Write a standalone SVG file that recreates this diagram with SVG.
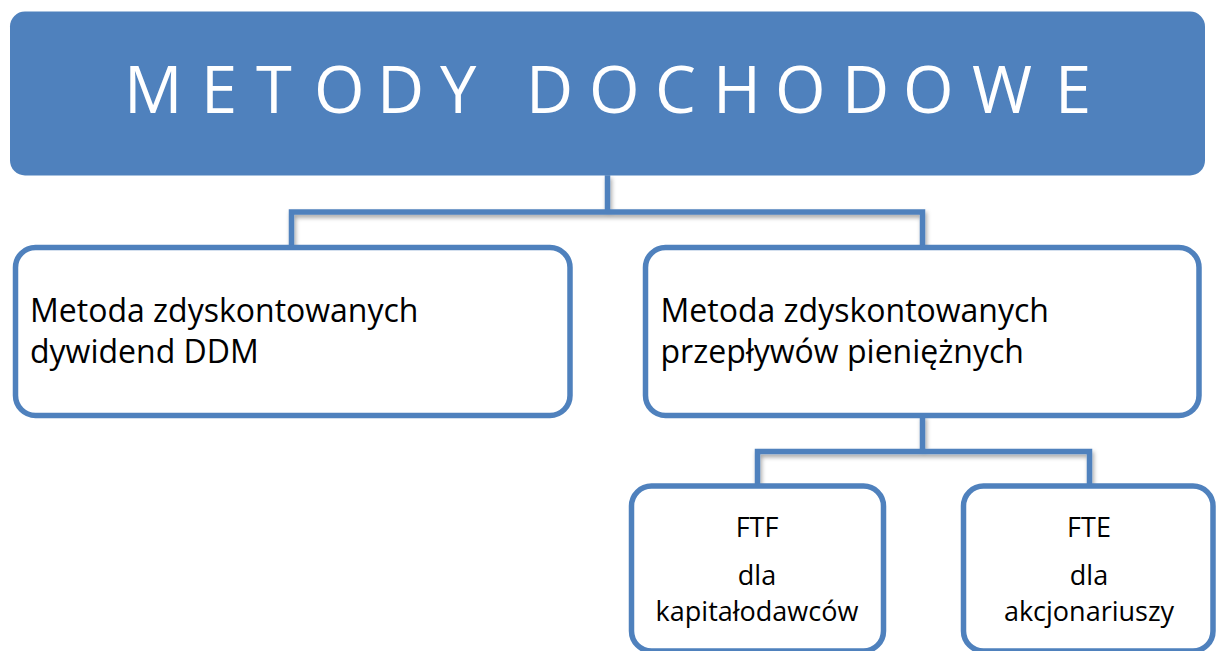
<svg xmlns="http://www.w3.org/2000/svg" width="1217" height="651" viewBox="0 0 1217 651">
<style>
  .box { fill: #ffffff; stroke: #4f81bd; stroke-width: 5.5; }
  .conn { fill: none; stroke: #4f81bd; stroke-width: 5.5; stroke-linejoin: miter; stroke-linecap: square; }
  .title { font-family: "Open Sans", "DejaVu Sans", sans-serif; font-size: 65px; fill: #ffffff; }
  .body { font-family: "Open Sans", "DejaVu Sans", sans-serif; font-size: 32px; fill: #000000; }
  .small { font-family: "Open Sans", "DejaVu Sans", sans-serif; font-size: 27px; fill: #000000; text-anchor: middle; }
</style>
<defs>
  <filter id="shadow" x="-20%" y="-50%" width="140%" height="200%">
    <feDropShadow dx="1.5" dy="3" stdDeviation="2" flood-color="#000000" flood-opacity="0.35"/>
  </filter>
</defs>
<rect x="0" y="0" width="1217" height="651" fill="#ffffff"/>

<g id="connectors" filter="url(#shadow)">
  <path class="conn" d="M607.5 178 V212 M291.5 245 V212 H922.5 V245"/>
  <path class="conn" d="M922.5 418 V451.5 M757.5 485 V451.5 H1089.5 V485"/>
</g>

<g id="node-root">
  <rect x="10" y="11.5" width="1195" height="164" rx="15" ry="15" fill="#4f81bd"/>
  <text class="title" y="113" x="124 201 256 314 377 440 526 589 655 713 775 842 903 972 1055">METODYDOCHODOWE</text>
</g>

<g id="node-ddm">
  <rect class="box" x="15.5" y="247.5" width="554.5" height="168" rx="20" ry="20"/>
  <text class="body" x="30" y="322">Metoda zdyskontowanych</text>
  <text class="body" x="30" y="363">dywidend DDM</text>
</g>

<g id="node-dcf">
  <rect class="box" x="645.5" y="247.5" width="553.5" height="168" rx="20" ry="20"/>
  <text class="body" x="660.5" y="322">Metoda zdyskontowanych</text>
  <text class="body" x="660.5" y="363">przepływów pieniężnych</text>
</g>

<g id="node-ftf">
  <rect class="box" x="631.5" y="486" width="252" height="165" rx="20" ry="20"/>
  <text class="small" x="757" y="537">FTF</text>
  <text class="small" x="757" y="585">dla</text>
  <text class="small" x="757" y="621">kapitałodawców</text>
</g>

<g id="node-fte">
  <rect class="box" x="963.5" y="486" width="249.5" height="165" rx="20" ry="20"/>
  <text class="small" x="1089" y="537">FTE</text>
  <text class="small" x="1089" y="585">dla</text>
  <text class="small" x="1089" y="621">akcjonariuszy</text>
</g>
</svg>
